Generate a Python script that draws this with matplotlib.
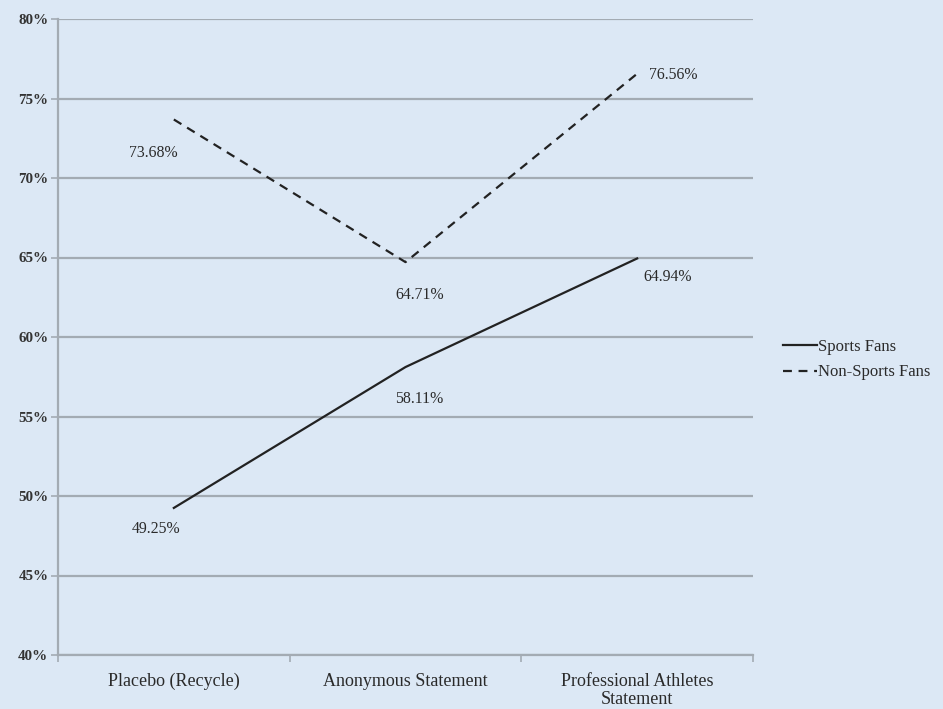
import matplotlib
matplotlib.use("Agg")
import matplotlib.pyplot as plt
from matplotlib.ticker import FixedLocator, NullFormatter

categories = ["Placebo (Recycle)", "Anonymous Statement", "Professional Athletes\nStatement"]
sports_fans = [49.25, 58.11, 64.94]
non_sports_fans = [73.68, 64.71, 76.56]
y_ticks = [40, 45, 50, 55, 60, 65, 70, 75, 80]

bg = "#dce8f5"
grid_c = "#a3abb3"
ink = "#222222"
txt = "#2a2a2a"
serif = ["Liberation Serif", "DejaVu Serif"]

fig = plt.figure(figsize=(9.43, 7.09), dpi=100, facecolor=bg)
ax = fig.add_axes([58 / 943, 1 - 655 / 709, (753 - 58) / 943, (655 - 19) / 709])
ax.set_facecolor(bg)

x = list(range(len(categories)))
ax.plot(x, sports_fans, color=ink, lw=1.6, label="Sports Fans")
ax.plot(x, non_sports_fans, color=ink, lw=1.6, dashes=(4, 3), label="Non-Sports Fans")

ax.set_xlim(-0.5, len(categories) - 0.5)
ax.set_ylim(40, 80)

# y axis: gridlines every 5%
ax.set_yticks(y_ticks)
ax.set_yticklabels([f"{t}%" for t in y_ticks], fontfamily=serif, fontsize=10.8,
                   fontweight="bold", color="#333333")
ax.yaxis.grid(True, color=grid_c, lw=1.6)
ax.set_axisbelow(True)

# x axis: ticks at category boundaries, labels at centres
ax.xaxis.set_major_locator(FixedLocator([i - 0.5 for i in range(len(categories) + 1)]))
ax.xaxis.set_major_formatter(NullFormatter())
ax.set_xticks(x, minor=True)
ax.set_xticklabels(categories, minor=True, fontfamily=serif, fontsize=13,
                   color=txt, linespacing=1.05)
ax.tick_params(axis="x", which="minor", length=0, pad=13)
ax.tick_params(axis="x", which="major", length=5, color=grid_c, width=1.2)
ax.tick_params(axis="y", length=5, color=grid_c, width=1.2, pad=2)

for side in ("top", "right"):
    ax.spines[side].set_visible(False)
for side in ("left", "bottom"):
    ax.spines[side].set_color(grid_c)
    ax.spines[side].set_linewidth(1.6)

# value labels
sports_off = [(-13, -15), (10, -23), (22, -13)]
non_off = [(-15, -24), (10, -24), (26, -1)]
for xi, v, off in zip(x, sports_fans, sports_off):
    ax.annotate(f"{v:.2f}%", (xi, v), xytext=off, textcoords="offset points",
                ha="center", va="center", fontfamily=serif, fontsize=11.4, color=txt)
for xi, v, off in zip(x, non_sports_fans, non_off):
    ax.annotate(f"{v:.2f}%", (xi, v), xytext=off, textcoords="offset points",
                ha="center", va="center", fontfamily=serif, fontsize=11.4, color=txt)

leg = ax.legend(loc="center left", bbox_to_anchor=(1.022, 0.464), frameon=False,
                prop={"family": serif, "size": 12}, handlelength=2.0,
                handletextpad=0.1, labelspacing=0.55)
for t in leg.get_texts():
    t.set_color(txt)

fig.savefig("out.png", dpi=100, facecolor=bg)
